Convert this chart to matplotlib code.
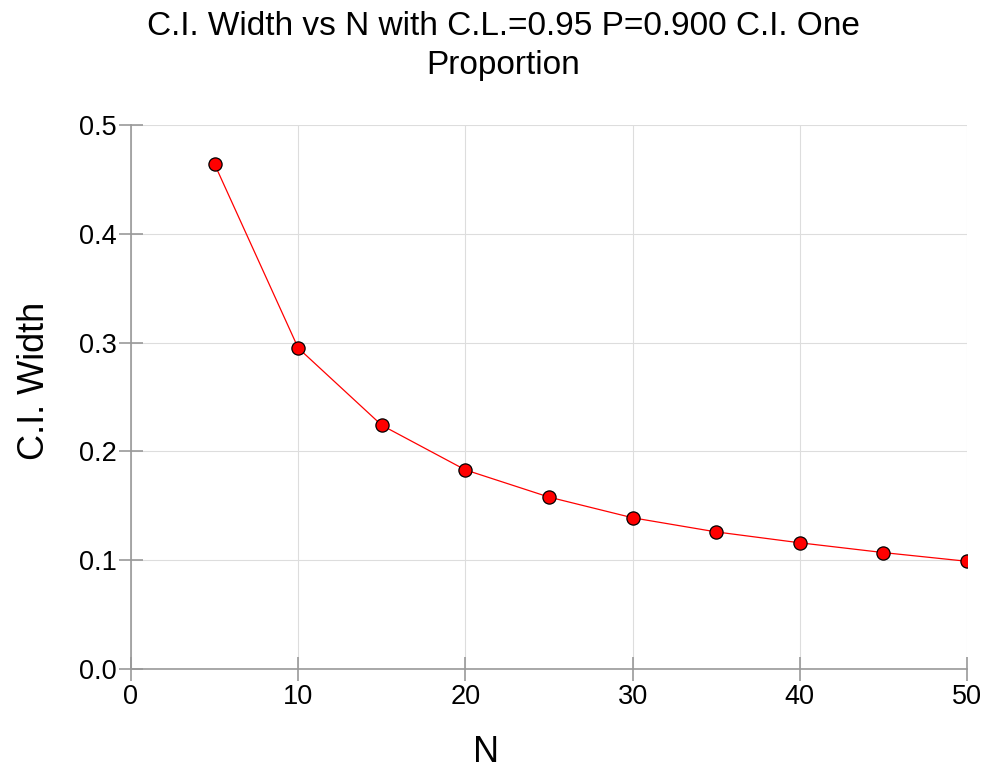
import matplotlib
matplotlib.use("Agg")
import matplotlib.pyplot as plt

plt.rcParams['font.family'] = ['Liberation Sans', 'DejaVu Sans']

n_values = [5, 10, 15, 20, 25, 30, 35, 40, 45, 50]
ci_width = [0.464, 0.295, 0.224, 0.183, 0.158, 0.139, 0.126, 0.116, 0.107, 0.099]
x_ticks = [0, 10, 20, 30, 40, 50]
y_ticks = [0.0, 0.1, 0.2, 0.3, 0.4, 0.5]
y_tick_labels = ["0.0", "0.1", "0.2", "0.3", "0.4", "0.5"]

W, H = 985, 770
fig = plt.figure(figsize=(W/100, H/100), dpi=100)
ax = fig.add_axes([131/W, 1-669/H, (967-131)/W, (669-125)/H])

ax.plot(n_values, ci_width, color='red', lw=0.9, marker='o', markersize=9.5,
        markerfacecolor='red', markeredgecolor='black', markeredgewidth=0.9, zorder=3)

ax.set_xlim(0, 50)
ax.set_ylim(0, 0.5)
ax.set_xticks(x_ticks)
ax.set_yticks(y_ticks)
ax.set_yticklabels(y_tick_labels)
ax.grid(True, color='#dddddd', lw=0.8)
ax.set_axisbelow(True)
for s in ['top', 'right']:
    ax.spines[s].set_visible(False)
for s in ['left', 'bottom']:
    ax.spines[s].set_color('#999999')
    ax.spines[s].set_linewidth(1.2)
ax.tick_params(axis='both', direction='inout', length=17, width=1.2, color='#999999',
               labelsize=19.5, pad=2)

fig.text(486/W, 1-753/H, 'N', fontsize=26, ha='center', va='center')
fig.text(35/W, 1-381/H, 'C.I. Width', fontsize=26, ha='center', va='center', rotation=90)
fig.text(503/W, 1-11/H, 'C.I. Width vs N with C.L.=0.95 P=0.900 C.I. One\nProportion',
         fontsize=24, ha='center', va='top', multialignment='center', linespacing=1.33)

fig.savefig('out.png', dpi=100)
